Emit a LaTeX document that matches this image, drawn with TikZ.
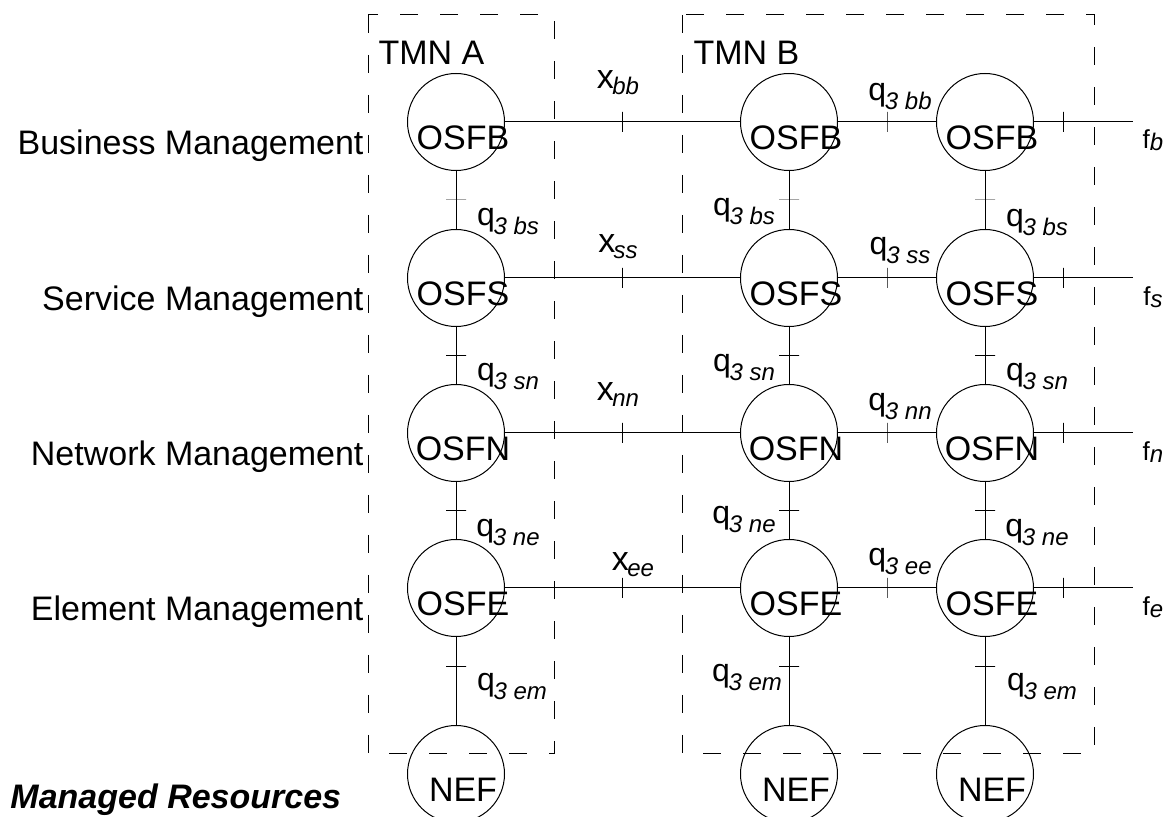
\documentclass[tikz,border=0pt]{standalone}
\usepackage{fontspec}
\setmainfont{Liberation Sans}

% text inside a function block, shifted down and right like the original
\newcommand{\osfname}[1]{\makebox[0pt]{\raisebox{-14pt}[0pt][0pt]{\kern7pt #1}}}
% reference point labels
\newcommand{\qif}[1]{{\fontsize{16}{16}\selectfont q}\kern-0.6pt\raisebox{-4.5pt}{\fontsize{12}{12}\selectfont\itshape 3 #1}}
\newcommand{\xif}[1]{{\fontsize{17}{17}\selectfont x}\kern-0.8pt\raisebox{-3pt}{\fontsize{12}{12}\selectfont\itshape #1}}
\newcommand{\fif}[1]{{\fontsize{13}{13}\selectfont f}\raisebox{-1pt}{\fontsize{12}{12}\selectfont\itshape #1}}

\tikzset{
  osf/.style={circle, draw, minimum size=48.5pt},
  hmark/.style={draw, minimum width=0pt, minimum height=10pt},
  vmark/.style={draw, minimum width=10pt, minimum height=0pt},
  tmnbox/.style={draw, dash pattern=on 9pt off 11pt}
}

\begin{document}
\begin{tikzpicture}[x=0.5pt,y=-0.5pt,line width=0.5pt,font=\fontsize{17}{20}\selectfont]
  \tikzstyle{every node}+=[inner sep=0pt]
  \useasboundingbox (0,0) rectangle (1168,817);

  % TMN domains
  \draw [tmnbox] (368,15) rectangle (554,754);
  \draw [tmnbox] (682,15) rectangle (1094,754);
  \node [anchor=base west] (tmnA) at (378,65) {TMN A};
  \node [anchor=base west] (tmnB) at (693,65) {TMN B};

  % layers
  \node [anchor=base east] (bml) at (364,155) {Business Management};
  \node [anchor=base east] (sml) at (364,311) {Service Management};
  \node [anchor=base east] (nml) at (364,466) {Network Management};
  \node [anchor=base east] (eml) at (364,621) {Element Management};
  \node [anchor=base west, font=\fontsize{17}{20}\selectfont\bfseries\itshape] (mres) at (10,808) {Managed Resources};

  % function blocks
  \node [osf] (aB) at (456,122) {\osfname{OSFB}};
  \node [osf] (aS) at (456,278) {\osfname{OSFS}};
  \node [osf] (aN) at (456,433) {\osfname{OSFN}};
  \node [osf] (aE) at (456,588) {\osfname{OSFE}};
  \node [osf] (aR) at (456,774) {\osfname{NEF}};
  \node [osf] (bB) at (789,122) {\osfname{OSFB}};
  \node [osf] (bS) at (789,278) {\osfname{OSFS}};
  \node [osf] (bN) at (789,433) {\osfname{OSFN}};
  \node [osf] (bE) at (789,588) {\osfname{OSFE}};
  \node [osf] (bR) at (789,774) {\osfname{NEF}};
  \node [osf] (cB) at (985,122) {\osfname{OSFB}};
  \node [osf] (cS) at (985,278) {\osfname{OSFS}};
  \node [osf] (cN) at (985,433) {\osfname{OSFN}};
  \node [osf] (cE) at (985,588) {\osfname{OSFE}};
  \node [osf] (cR) at (985,774) {\osfname{NEF}};
  \coordinate (fB) at (1133,122);
  \coordinate (fS) at (1133,278);
  \coordinate (fN) at (1133,433);
  \coordinate (fE) at (1133,588);

  % horizontal reference points
  \draw (aB) -- node [hmark] {} (bB);
  \draw (aS) -- node [hmark] {} (bS);
  \draw (aN) -- node [hmark] {} (bN);
  \draw (aE) -- node [hmark] {} (bE);
  \draw (bB) -- node [hmark] {} (cB);
  \draw (bS) -- node [hmark] {} (cS);
  \draw (bN) -- node [hmark] {} (cN);
  \draw (bE) -- node [hmark] {} (cE);
  \draw (cB) -- node [hmark, pos=0.3] {} (fB);
  \draw (cS) -- node [hmark, pos=0.3] {} (fS);
  \draw (cN) -- node [hmark, pos=0.3] {} (fN);
  \draw (cE) -- node [hmark, pos=0.3] {} (fE);

  % vertical reference points
  \foreach \c in {a,b,c} {
    \draw (\c B) -- node [vmark] {} (\c S);
    \draw (\c S) -- node [vmark] {} (\c N);
    \draw (\c N) -- node [vmark] {} (\c E);
    \draw (\c E) -- node [vmark, pos=0.34] {} (\c R);
  }

  % labels
  \node (xbb) at (618,83) {\xif{bb}};
  \node (xss) at (618,247) {\xif{ss}};
  \node (xnn) at (618,395) {\xif{nn}};
  \node (xee) at (633,565) {\xif{ee}};
  \node (qbb) at (900,97) {\qif{bb}};
  \node (qss) at (900,251) {\qif{ss}};
  \node (qnn) at (900,407) {\qif{nn}};
  \node (qee) at (900,562) {\qif{ee}};
  \node (aqbs) at (508,222) {\qif{bs}};
  \node (aqsn) at (508,377) {\qif{sn}};
  \node (aqne) at (508,533) {\qif{ne}};
  \node (aqem) at (512,687) {\qif{em}};
  \node (bqbs) at (744,212) {\qif{bs}};
  \node (bqsn) at (744,368) {\qif{sn}};
  \node (bqne) at (744,520) {\qif{ne}};
  \node (bqem) at (747,678) {\qif{em}};
  \node (cqbs) at (1037,223) {\qif{bs}};
  \node (cqsn) at (1037,377) {\qif{sn}};
  \node (cqne) at (1037,533) {\qif{ne}};
  \node (cqem) at (1042,687) {\qif{em}};
  \node (fb) at (1153,140) {\fif{b}};
  \node (fs) at (1153,297) {\fif{s}};
  \node (fn) at (1153,452) {\fif{n}};
  \node (fe) at (1153,607) {\fif{e}};
\end{tikzpicture}
\end{document}
